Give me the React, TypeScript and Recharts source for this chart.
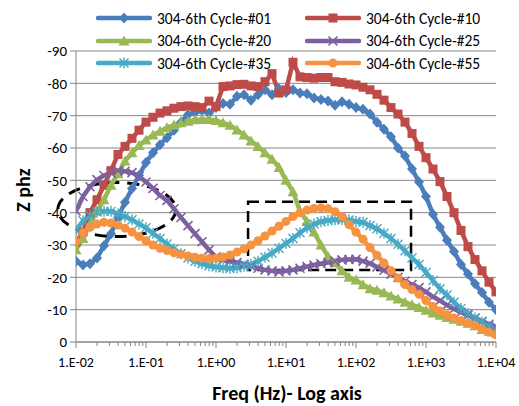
import { LineChart, Line, XAxis, YAxis, CartesianGrid, ReferenceArea, Label } from "recharts";

// frequencies (Hz), 10 points per decade
const freqHz = [
    0.01, 0.01259, 0.01585, 0.01995, 0.02512, 0.03162, 0.03981, 0.05012, 0.0631, 0.07943,
    0.1, 0.1259, 0.1585, 0.1995, 0.2512, 0.3162, 0.3981, 0.5012, 0.631, 0.7943,
    1, 1.259, 1.585, 1.995, 2.512, 3.162, 3.981, 5.012, 6.31, 7.943,
    10, 12.59, 15.85, 19.95, 25.12, 31.62, 39.81, 50.12, 63.1, 79.43,
    100, 125.9, 158.5, 199.5, 251.2, 316.2, 398.1, 501.2, 631, 794.3,
    1000, 1259, 1585, 1995, 2512, 3162, 3981, 5012, 6310, 7943, 10000,
];

const cycle01 = [
    -25, -23.8, -24.2, -26, -29.8, -33.5, -38.5, -43.2, -47.5, -51.5,
    -55.5, -58.5, -61, -63.2, -65.5, -68, -70.3, -71, -71.6, -70.8,
    -72.5, -73.8, -73.5, -76, -76.5, -74.8, -76.5, -78, -76.5, -78.3,
    -77.2, -78, -77, -76.8, -75.5, -75, -74.5, -73.2, -74.3, -73.5,
    -72.5, -72, -70.5, -68, -65.8, -63.5, -60, -57.5, -53.5, -49.5,
    -45, -39.5, -35.5, -31.5, -28, -24, -21, -18, -15.3, -12.3, -10,
];

const cycle10 = [
    -31, -34, -40, -44, -48.5, -53, -58, -60.5, -63, -65.5,
    -68, -69.5, -70.8, -71.5, -72.3, -72.8, -73, -72.8, -72.5, -74.5,
    -72.8, -79, -79.2, -79.6, -79.7, -79.2, -79, -80.5, -83, -77,
    -78, -86.5, -82, -81.8, -81.6, -81.8, -81.8, -80.5, -80.3, -79.8,
    -79.5, -78.8, -78, -76.6, -74.8, -72.5, -70.5, -68, -64.5, -60.5,
    -57, -53.5, -49.6, -45, -40, -34.5, -29.5, -25.5, -22, -18.5, -15.5,
];

const cycle20 = [
    -28.5, -32, -36.5, -40.5, -44, -48.5, -52, -56, -58.5, -60.8,
    -62.5, -64, -65.2, -66.3, -67.1, -67.8, -68.3, -68.7, -68.8, -68.8,
    -68.5, -67.8, -67, -65.6, -64, -62.2, -60.5, -58.5, -56.5, -54,
    -50, -46.5, -40.5, -37.3, -34, -30, -26.5, -24.5, -22, -20,
    -19.2, -17.7, -16.5, -16, -15.2, -14.2, -13.3, -12.3, -11.5, -10.7,
    -9.8, -9, -8.3, -7.6, -7, -6.4, -5.8, -5, -3.9, -3.3, -2.8,
];

const cycle25 = [
    -40.5, -45, -48, -50.2, -51.5, -52.3, -53, -52.8, -52.4, -51.2,
    -49.5, -47.5, -45.3, -43.8, -41.2, -38.5, -36, -33.5, -31, -28.5,
    -26.3, -25.4, -25, -24.6, -24, -23.5, -22.8, -22.3, -22, -21.7,
    -22, -22.3, -22.8, -23.3, -23.8, -24.2, -24.6, -25, -25.4, -25.5,
    -25.6, -25, -24.3, -23.2, -22.2, -21, -20, -18.8, -17.8, -16.8,
    -15.5, -14, -12.8, -11.4, -10.2, -9.2, -8.3, -7.4, -6.4, -5.5, -4.7,
];

const cycle35 = [
    -34.5, -37.5, -39.2, -40.2, -40.4, -40.4, -39.6, -38.8, -37.8, -36.5,
    -35.3, -33.6, -32, -30.3, -28.8, -27.3, -26, -25, -24.2, -23.6,
    -23.2, -23, -22.8, -23, -23.4, -24, -25, -26.2, -27.5, -29,
    -30.5, -32, -33.8, -35.3, -36.5, -37.2, -37.6, -37.8, -37.8, -37.7,
    -37.3, -37, -36, -35, -33.6, -32, -30.2, -28.2, -26, -24,
    -21.5, -19, -16.5, -14.5, -12.3, -10.4, -8.8, -7.4, -6.2, -4.8, -3.7,
];

const cycle55 = [
    -31, -33.8, -35.5, -36.5, -37, -36.8, -36.2, -35.2, -34, -32.6,
    -31.3, -30, -29, -28.3, -27.6, -27.1, -26.6, -26.2, -25.9, -25.8,
    -25.9, -26.3, -26.9, -27.8, -28.8, -30, -31.3, -32.8, -34.3, -35.8,
    -37.3, -38.8, -40, -40.8, -41.3, -41.5, -41.2, -40.3, -38.8, -36.3,
    -34, -31.8, -29.2, -26.8, -24.4, -22, -19.8, -17.8, -16.2, -14.8,
    -12.8, -11, -9.6, -8.4, -7.4, -6.6, -5.8, -5, -4, -3, -2.2,
];

const majorTicks = [0.01, 0.1, 1, 10, 100, 1000, 10000];
const yTicks = [-90, -80, -70, -60, -50, -40, -30, -20, -10, 0];

const minorTicks: number[] = [];
majorTicks.slice(0, -1).forEach((d) => {
    for (let m = 2; m <= 9; m++) minorTicks.push(+(d * m).toPrecision(3));
});
const xTicks = [...majorTicks, ...minorTicks].sort((a, b) => a - b);

type Kind = "diamond" | "square" | "triangle" | "x" | "star" | "circle";

const series: { key: string; name: string; color: string; marker: Kind; values: number[] }[] = [
    { key: "c01", name: "304-6th Cycle-#01", color: "#4A7EBB", marker: "diamond", values: cycle01 },
    { key: "c10", name: "304-6th Cycle-#10", color: "#BE4B48", marker: "square", values: cycle10 },
    { key: "c20", name: "304-6th Cycle-#20", color: "#98B954", marker: "triangle", values: cycle20 },
    { key: "c25", name: "304-6th Cycle-#25", color: "#7D60A0", marker: "x", values: cycle25 },
    { key: "c35", name: "304-6th Cycle-#35", color: "#46AAC5", marker: "star", values: cycle35 },
    { key: "c55", name: "304-6th Cycle-#55", color: "#F69240", marker: "circle", values: cycle55 },
];

const data = freqHz.map((f, i) => {
    const row: Record<string, number> = { f };
    series.forEach((s) => (row[s.key] = s.values[i]));
    return row;
});

const FONT = "Carlito, Calibri, Lato, sans-serif";
const AXIS = "#868686";

function Marker({ kind, cx, cy, color }: { kind: Kind; cx: number; cy: number; color: string }) {
    switch (kind) {
        case "diamond":
            return <polygon points={`${cx},${cy - 5.5} ${cx + 5},${cy} ${cx},${cy + 5.5} ${cx - 5},${cy}`} fill={color} />;
        case "square":
            return <rect x={cx - 4.5} y={cy - 4.5} width={9} height={9} fill={color} />;
        case "triangle":
            return <polygon points={`${cx},${cy - 5.5} ${cx + 5.5},${cy + 4.5} ${cx - 5.5},${cy + 4.5}`} fill={color} />;
        case "x":
            return (
                <path
                    d={`M${cx - 4.5},${cy - 4.5}L${cx + 4.5},${cy + 4.5}M${cx - 4.5},${cy + 4.5}L${cx + 4.5},${cy - 4.5}`}
                    stroke={color}
                    strokeWidth={1.6}
                />
            );
        case "star":
            return (
                <path
                    d={`M${cx - 4.5},${cy - 4.5}L${cx + 4.5},${cy + 4.5}M${cx - 4.5},${cy + 4.5}L${cx + 4.5},${cy - 4.5}M${cx},${cy - 5.5}L${cx},${cy + 5.5}`}
                    stroke={color}
                    strokeWidth={1.4}
                />
            );
        default:
            return <circle cx={cx} cy={cy} r={4.5} fill={color} />;
    }
}

function fmtExp(v: number) {
    const e = Math.round(Math.log10(v));
    return `1.E${e < 0 ? "-" : "+"}${String(Math.abs(e)).padStart(2, "0")}`;
}

function XTick({ x, y, payload }: any) {
    const major = majorTicks.includes(payload.value);
    return (
        <g>
            <line x1={x} x2={x} y1={y} y2={y + (major ? 6 : 4)} stroke={AXIS} />
            {major && (
                <text x={x} y={y + 25} textAnchor="middle" fontSize={14} fill="#000" fontFamily={FONT}>
                    {fmtExp(payload.value)}
                </text>
            )}
        </g>
    );
}

function LegendItem({ s }: { s: (typeof series)[number] }) {
    return (
        <div style={{ display: "flex", alignItems: "center", height: 22.5 }}>
            <svg width={56} height={14} style={{ marginRight: 5 }}>
                <line x1={2} x2={54} y1={7} y2={7} stroke={s.color} strokeWidth={4.5} strokeLinecap="round" />
                <Marker kind={s.marker} cx={28} cy={7} color={s.color} />
            </svg>
            <span>{s.name}</span>
        </div>
    );
}

export default function App() {
    return (
        <div style={{ position: "absolute", left: 0, top: 0, width: 519, height: 406, background: "#fff", fontFamily: FONT }}>
            <LineChart width={519} height={406} data={data} margin={{ top: 51, right: 23, bottom: 0, left: 0 }}>
                <CartesianGrid vertical={false} stroke={AXIS} />
                <XAxis
                    dataKey="f"
                    type="number"
                    scale="log"
                    domain={[0.01, 10000]}
                    ticks={xTicks}
                    interval={0}
                    allowDataOverflow
                    height={64}
                    tickSize={0}
                    tickMargin={0}
                    tickLine={false}
                    axisLine={{ stroke: AXIS }}
                    tick={<XTick />}
                >
                    <Label
                        content={() => (
                            <text x={287} y={400} textAnchor="middle" fontSize={20} fontWeight="bold" fontFamily={FONT} fill="#000">
                                Freq (Hz)- Log axis
                            </text>
                        )}
                    />
                </XAxis>
                <YAxis
                    type="number"
                    domain={[-90, 0]}
                    ticks={yTicks}
                    reversed
                    width={76}
                    tickSize={6}
                    tickMargin={3}
                    tickLine={{ stroke: AXIS }}
                    axisLine={{ stroke: AXIS }}
                    tick={{ fill: "#000", fontSize: 15, fontFamily: FONT }}
                >
                    <Label
                        content={() => (
                            <text
                                x={23}
                                y={190}
                                transform="rotate(-90 23 190)"
                                textAnchor="middle"
                                dominantBaseline="central"
                                fontSize={20}
                                fontWeight="bold"
                                fontFamily={FONT}
                                fill="#000"
                            >
                                Z phz
                            </text>
                        )}
                    />
                </YAxis>
                {series.map((s) => (
                    <Line
                        key={s.key}
                        dataKey={s.key}
                        name={s.name}
                        type="linear"
                        stroke={s.color}
                        strokeWidth={4.5}
                        isAnimationActive={false}
                        dot={(p: any) => <Marker key={`${s.key}-${p.index}`} kind={s.marker} cx={p.cx} cy={p.cy} color={s.color} />}
                        activeDot={false}
                    />
                ))}
                <ReferenceArea
                    x1={0.0055}
                    x2={0.268}
                    y1={-49.3}
                    y2={-32.6}
                    ifOverflow="visible"
                    shape={(p: any) => (
                        <ellipse
                            cx={p.x + p.width / 2}
                            cy={p.y + p.height / 2}
                            rx={Math.abs(p.width) / 2}
                            ry={Math.abs(p.height) / 2}
                            fill="none"
                            stroke="#000"
                            strokeWidth={3}
                            strokeDasharray="12 8"
                        />
                    )}
                />
                <ReferenceArea
                    x1={2.87}
                    x2={611}
                    y1={-43.4}
                    y2={-22.3}
                    ifOverflow="visible"
                    fill="none"
                    fillOpacity={0}
                    stroke="#000"
                    strokeWidth={2.5}
                    strokeDasharray="11 6"
                />
            </LineChart>
            <div
                style={{
                    position: "absolute",
                    left: 96,
                    top: 7,
                    display: "grid",
                    gridTemplateColumns: "209px 200px",
                    fontSize: 15.5,
                    color: "#000",
                    lineHeight: 1,
                }}
            >
                {series.map((s) => (
                    <LegendItem key={s.key} s={s} />
                ))}
            </div>
        </div>
    );
}
